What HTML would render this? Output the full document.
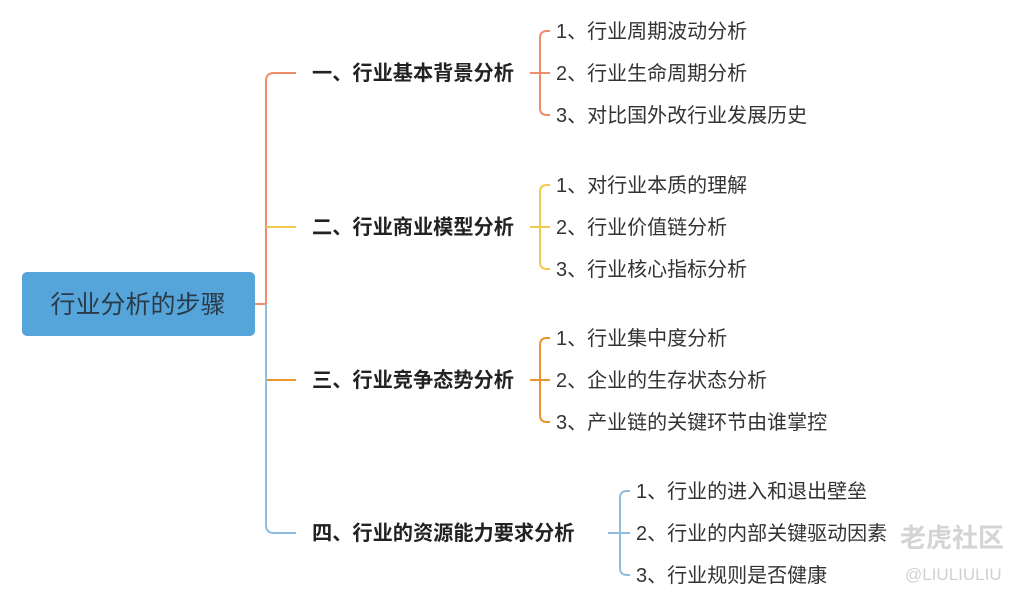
<!DOCTYPE html>
<html><head><meta charset="utf-8"><style>
html,body{margin:0;padding:0;background:#fff;}
svg{display:block}
text{font-family:"Liberation Sans","Noto Sans CJK SC",sans-serif;}
.l1{font-size:20.2px;font-weight:bold;fill:#222;}
.l2{font-size:20px;fill:#333;}
</style></head><body>
<svg width="1024" height="596" viewBox="0 0 1024 596" xmlns="http://www.w3.org/2000/svg">
<rect x="22" y="272" width="233" height="64" rx="5" fill="#55a5da"/>
<text x="138" y="313" text-anchor="middle" font-size="25" fill="#2b3a48">行业分析的步骤</text>
<g fill="none" stroke-width="2">
<path d="M255 304 H266" stroke="#ef8c6b"/>
<path d="M296 73 H274 Q266 73 266 81 V304" stroke="#ef8c6b"/>
<path d="M266 227 H296" stroke="#f2c94f"/>
<path d="M266 380 H296" stroke="#e8952e"/>
<path d="M266 304 V525 Q266 533 274 533 H296" stroke="#8fbde0"/>
<path d="M530 73 H550 M550 31 H547 Q540 31 540 38 V108 Q540 115 547 115 H550" stroke="#ef8c6b"/>
<path d="M530 227 H550 M550 185 H547 Q540 185 540 192 V262 Q540 269 547 269 H550" stroke="#f2c94f"/>
<path d="M530 380 H550 M550 338 H547 Q540 338 540 345 V415 Q540 422 547 422 H550" stroke="#e8952e"/>
<path d="M608 533 H630 M630 491 H627 Q620 491 620 498 V568 Q620 575 627 575 H630" stroke="#8fbde0"/>
</g>
<text class="l1" x="312" y="80">一、行业基本背景分析</text>
<text class="l1" x="312" y="234">二、行业商业模型分析</text>
<text class="l1" x="312" y="387">三、行业竞争态势分析</text>
<text class="l1" x="312" y="540">四、行业的资源能力要求分析</text>
<text class="l2" x="556" y="38">1、行业周期波动分析</text>
<text class="l2" x="556" y="80">2、行业生命周期分析</text>
<text class="l2" x="556" y="122">3、对比国外改行业发展历史</text>
<text class="l2" x="556" y="192">1、对行业本质的理解</text>
<text class="l2" x="556" y="234">2、行业价值链分析</text>
<text class="l2" x="556" y="276">3、行业核心指标分析</text>
<text class="l2" x="556" y="345">1、行业集中度分析</text>
<text class="l2" x="556" y="387">2、企业的生存状态分析</text>
<text class="l2" x="556" y="429">3、产业链的关键环节由谁掌控</text>
<text class="l2" x="636" y="498">1、行业的进入和退出壁垒</text>
<text class="l2" x="636" y="540">2、行业的内部关键驱动因素</text>
<text class="l2" x="636" y="582">3、行业规则是否健康</text>
<text x="900" y="547" font-size="26" font-weight="bold" fill="#d4d4d4">老虎社区</text>
<text x="905" y="580" font-size="17" fill="#d0d0d0">@LIULIULIU</text>
</svg>
</body></html>
